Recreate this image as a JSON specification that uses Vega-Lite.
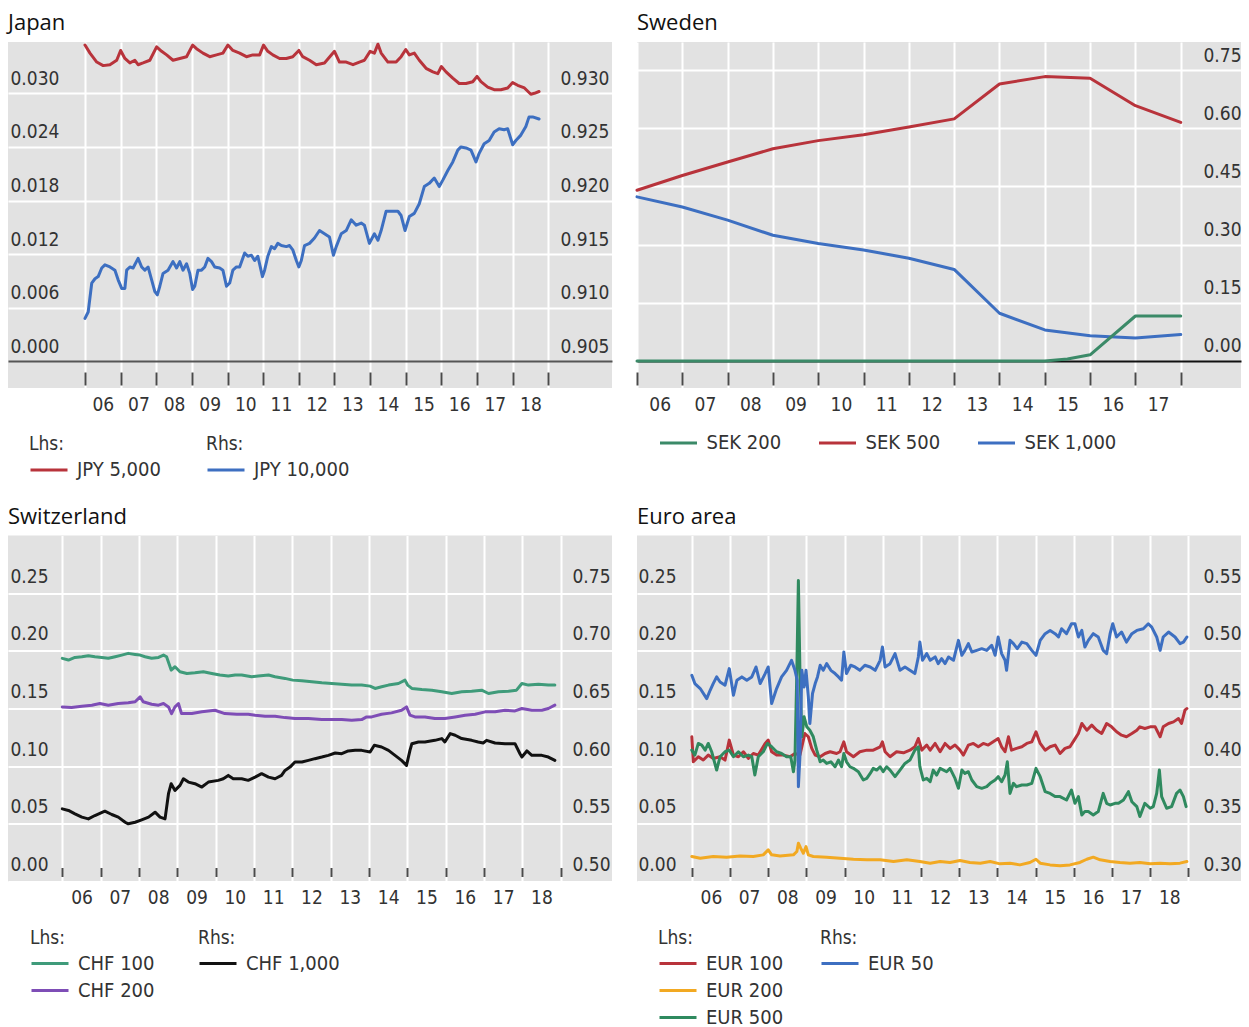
{
"$schema": "https://vega.github.io/schema/vega-lite/v6.json",
"padding": {"left": 8, "top": 12, "right": 0, "bottom": 0},
"background": "white",
"config": {
 "view": {"fill": "#e2e2e2", "stroke": null},
 "axis": {"labelFont": "DejaVu Sans Condensed, DejaVu Sans, sans-serif", "labelFontSize": 19, "labelColor": "#333333", "domain": false, "labelFlush": false, "labelOverlap": false, "labelBound": false, "gridColor": "white", "gridWidth": 2, "gridOpacity": 1},
 "axisY": {"ticks": false, "tickSize": 0, "labelAlign": "left", "labelBaseline": "alphabetic"},
 "axisX": {"ticks": true, "tickColor": "#4a4a4a", "tickWidth": 2, "grid": true},
 "legend": {"orient": "none", "direction": "vertical", "symbolType": "stroke", "symbolSize": 1369, "symbolStrokeWidth": 3, "clipHeight": 20, "labelFont": "DejaVu Sans Condensed, DejaVu Sans, sans-serif", "labelFontSize": 20, "labelColor": "#333333", "labelOffset": 8, "titleFont": "DejaVu Sans Condensed, DejaVu Sans, sans-serif", "titleFontSize": 19, "titleFontWeight": "normal", "titleColor": "#333333", "titlePadding": 6, "rowPadding": 7, "padding": 0},
 "title": {"anchor": "start", "frame": "group", "font": "Open Sans", "fontSize": 22, "fontWeight": "normal", "color": "#111111", "baseline": "alphabetic", "offset": 7},
 "line": {"strokeWidth": 3, "strokeJoin": "round", "strokeCap": "round"}
},
"columns": 2,
"spacing": {"row": 147.5, "column": 25},
"bounds": "flush",
"resolve": {"scale": {"color": "independent", "stroke": "independent"}, "legend": {"color": "independent", "stroke": "independent"}},
"concat": [
 {
  "width": 604, "height": 346,
  "title": {"text": "Japan"},
  "encoding": {"x": {"field": "t", "type": "quantitative", "scale": {"domain": [2003.84, 2020.787], "nice": false, "zero": false},
    "axis": {"title": null, "values": [2006,2007,2008,2009,2010,2011,2012,2013,2014,2015,2016,2017,2018,2019], "labelExpr": "datum.value >= 2019 ? '' : substring(toString(datum.value), 2, 4)", "labelOffset": 17.8, "offset": -16, "tickSize": 13, "labelPadding": 10}}},
  "layer": [
   {"data": {"name": "jpL"}, "mark": "line",
    "encoding": {
     "y": {"field": "v", "type": "quantitative", "scale": {"domain": [-0.002989, 0.035744], "nice": false, "zero": false},
       "axis": {"title": null, "orient": "left", "values": [0, 0.006, 0.012, 0.018, 0.024, 0.03], "format": ".3f", "labelPadding": -2, "labelOffset": -9, "grid": true, "gridColor": {"condition": {"test": "datum.value === 0", "value": "#555555"}, "value": "white"}}},
     "color": {"field": "s", "type": "nominal", "scale": {"domain": ["JPY 5,000"], "range": ["#b8333b"]}, "legend": {"title": "Lhs:", "legendX": 21, "legendY": 393}}}},
   {"data": {"name": "jpR"}, "mark": "line",
    "encoding": {
     "y": {"field": "v", "type": "quantitative", "scale": {"domain": [0.902509, 0.934787], "nice": false, "zero": false},
       "axis": {"title": null, "orient": "right", "values": [0.905, 0.91, 0.915, 0.92, 0.925, 0.93], "format": ".3f", "labelPadding": -52, "labelOffset": -9, "grid": false}},
     "stroke": {"field": "s", "type": "nominal", "scale": {"domain": ["JPY 10,000"], "range": ["#3d6fc1"]}, "legend": {"title": "Rhs:", "legendX": 198, "legendY": 393}}}}
  ],
  "resolve": {"scale": {"y": "independent"}}
 },
 {
  "width": 604, "height": 346,
  "title": {"text": "Sweden"},
  "data": {"name": "se"},
  "mark": "line",
  "encoding": {
   "x": {"field": "t", "type": "quantitative", "scale": {"domain": [2006.0, 2019.33], "nice": false, "zero": false},
    "axis": {"title": null, "values": [2006,2007,2008,2009,2010,2011,2012,2013,2014,2015,2016,2017,2018], "labelExpr": "datum.value >= 2018 ? '' : substring(toString(datum.value), 2, 4)", "labelOffset": 22.65, "offset": -16, "tickSize": 13, "labelPadding": 10}},
   "y": {"field": "v", "type": "quantitative", "scale": {"domain": [-0.0696, 0.8222], "nice": false, "zero": false},
    "axis": {"title": null, "orient": "right", "values": [0, 0.15, 0.3, 0.45, 0.6, 0.75], "format": ".2f", "labelPadding": -38, "labelOffset": -9, "grid": true, "gridColor": {"condition": {"test": "datum.value === 0", "value": "#111111"}, "value": "white"}}},
   "color": {"field": "s", "type": "nominal", "scale": {"domain": ["SEK 200", "SEK 500", "SEK 1,000"], "range": ["#3b8a68", "#b8333b", "#3d6fc1"]},
    "legend": {"title": null, "direction": "horizontal", "columns": 3, "gridAlign": "all", "columnPadding": 19, "legendX": 21.5, "legendY": 391}}
  }
 },
 {
  "width": 604, "height": 346,
  "title": {"text": "Switzerland"},
  "encoding": {"x": {"field": "t", "type": "quantitative", "scale": {"domain": [2004.583, 2020.341], "nice": false, "zero": false},
    "axis": {"title": null, "values": [2006,2007,2008,2009,2010,2011,2012,2013,2014,2015,2016,2017,2018,2019], "labelExpr": "datum.value >= 2019 ? '' : substring(toString(datum.value), 2, 4)", "labelOffset": 19.2, "offset": -14, "tickSize": 9, "labelPadding": 12}}},
  "layer": [
   {"data": {"name": "chL"}, "mark": "line",
    "encoding": {
     "y": {"field": "v", "type": "quantitative", "scale": {"domain": [0, 0.3], "nice": false, "zero": false},
       "axis": {"title": null, "orient": "left", "values": [0, 0.05, 0.1, 0.15, 0.2, 0.25], "format": ".2f", "labelPadding": -2, "labelOffset": -11, "grid": true}},
     "color": {"field": "s", "type": "nominal", "scale": {"domain": ["CHF 100", "CHF 200"], "range": ["#3f9b7a", "#7e4db6"]}, "legend": {"title": "Lhs:", "legendX": 22, "legendY": 393}}}},
   {"data": {"name": "chR"}, "mark": "line",
    "encoding": {
     "y": {"field": "v", "type": "quantitative", "scale": {"domain": [0.5, 0.8], "nice": false, "zero": false},
       "axis": {"title": null, "orient": "right", "values": [0.5, 0.55, 0.6, 0.65, 0.7, 0.75], "format": ".2f", "labelPadding": -40, "labelOffset": -11, "grid": false}},
     "stroke": {"field": "s", "type": "nominal", "scale": {"domain": ["CHF 1,000"], "range": ["#111111"]}, "legend": {"title": "Rhs:", "legendX": 190, "legendY": 393}}}}
  ],
  "resolve": {"scale": {"y": "independent"}}
 },
 {
  "width": 604, "height": 346,
  "title": {"text": "Euro area"},
  "encoding": {"x": {"field": "t", "type": "quantitative", "scale": {"domain": [2004.565, 2020.377], "nice": false, "zero": false},
    "axis": {"title": null, "values": [2006,2007,2008,2009,2010,2011,2012,2013,2014,2015,2016,2017,2018,2019], "labelExpr": "datum.value >= 2019 ? '' : substring(toString(datum.value), 2, 4)", "labelOffset": 19.1, "offset": -14, "tickSize": 9, "labelPadding": 12}}},
  "layer": [
   {"data": {"name": "euL"}, "mark": "line",
    "encoding": {
     "y": {"field": "v", "type": "quantitative", "scale": {"domain": [0, 0.3], "nice": false, "zero": false},
       "axis": {"title": null, "orient": "left", "values": [0, 0.05, 0.1, 0.15, 0.2, 0.25], "format": ".2f", "labelPadding": -1, "labelOffset": -11, "grid": true}},
     "color": {"field": "s", "type": "nominal", "scale": {"domain": ["EUR 100", "EUR 200", "EUR 500"], "range": ["#b8333b", "#f2a922", "#2f8a5f"]}, "legend": {"title": "Lhs:", "legendX": 21, "legendY": 393}}}},
   {"data": {"name": "euR"}, "mark": "line",
    "encoding": {
     "y": {"field": "v", "type": "quantitative", "scale": {"domain": [0.3, 0.6], "nice": false, "zero": false},
       "axis": {"title": null, "orient": "right", "values": [0.3, 0.35, 0.4, 0.45, 0.5, 0.55], "format": ".2f", "labelPadding": -38, "labelOffset": -11, "grid": false}},
     "stroke": {"field": "s", "type": "nominal", "scale": {"domain": ["EUR 50"], "range": ["#3d6fc1"]}, "legend": {"title": "Rhs:", "legendX": 183, "legendY": 393}}}}
  ],
  "resolve": {"scale": {"y": "independent"}}
 }
],
"datasets": {
"jpL": [
{"s":"JPY 5,000","t":2006.00,"v":0.0354},{"s":"JPY 5,000","t":2006.14,"v":0.0345},{"s":"JPY 5,000","t":2006.33,"v":0.0335},{"s":"JPY 5,000","t":2006.51,"v":0.0331},{"s":"JPY 5,000","t":2006.70,"v":0.0332},{"s":"JPY 5,000","t":2006.89,"v":0.0337},
{"s":"JPY 5,000","t":2007.00,"v":0.0348},{"s":"JPY 5,000","t":2007.12,"v":0.0339},{"s":"JPY 5,000","t":2007.26,"v":0.0334},{"s":"JPY 5,000","t":2007.40,"v":0.0337},{"s":"JPY 5,000","t":2007.49,"v":0.0332},{"s":"JPY 5,000","t":2007.63,"v":0.0334},{"s":"JPY 5,000","t":2007.82,"v":0.0337},
{"s":"JPY 5,000","t":2008.01,"v":0.0352},{"s":"JPY 5,000","t":2008.15,"v":0.0347},{"s":"JPY 5,000","t":2008.29,"v":0.0343},{"s":"JPY 5,000","t":2008.47,"v":0.0337},{"s":"JPY 5,000","t":2008.66,"v":0.0339},{"s":"JPY 5,000","t":2008.85,"v":0.0341},
{"s":"JPY 5,000","t":2009.02,"v":0.0354},{"s":"JPY 5,000","t":2009.13,"v":0.0350},{"s":"JPY 5,000","t":2009.31,"v":0.0345},{"s":"JPY 5,000","t":2009.50,"v":0.0341},{"s":"JPY 5,000","t":2009.69,"v":0.0343},{"s":"JPY 5,000","t":2009.87,"v":0.0345},
{"s":"JPY 5,000","t":2010.01,"v":0.0354},{"s":"JPY 5,000","t":2010.15,"v":0.0348},{"s":"JPY 5,000","t":2010.34,"v":0.0345},{"s":"JPY 5,000","t":2010.53,"v":0.0341},{"s":"JPY 5,000","t":2010.71,"v":0.0343},{"s":"JPY 5,000","t":2010.90,"v":0.0343},
{"s":"JPY 5,000","t":2011.01,"v":0.0354},{"s":"JPY 5,000","t":2011.13,"v":0.0347},{"s":"JPY 5,000","t":2011.27,"v":0.0343},{"s":"JPY 5,000","t":2011.46,"v":0.0339},{"s":"JPY 5,000","t":2011.65,"v":0.0339},{"s":"JPY 5,000","t":2011.83,"v":0.0341},
{"s":"JPY 5,000","t":2012.00,"v":0.0348},{"s":"JPY 5,000","t":2012.11,"v":0.0341},{"s":"JPY 5,000","t":2012.30,"v":0.0337},{"s":"JPY 5,000","t":2012.49,"v":0.0332},{"s":"JPY 5,000","t":2012.72,"v":0.0334},
{"s":"JPY 5,000","t":2013.00,"v":0.0347},{"s":"JPY 5,000","t":2013.14,"v":0.0335},{"s":"JPY 5,000","t":2013.33,"v":0.0335},{"s":"JPY 5,000","t":2013.52,"v":0.0332},{"s":"JPY 5,000","t":2013.70,"v":0.0335},{"s":"JPY 5,000","t":2013.84,"v":0.0337},
{"s":"JPY 5,000","t":2014.00,"v":0.0347},{"s":"JPY 5,000","t":2014.12,"v":0.0345},{"s":"JPY 5,000","t":2014.22,"v":0.0355},{"s":"JPY 5,000","t":2014.31,"v":0.0345},{"s":"JPY 5,000","t":2014.50,"v":0.0335},{"s":"JPY 5,000","t":2014.73,"v":0.0335},{"s":"JPY 5,000","t":2014.87,"v":0.0341},
{"s":"JPY 5,000","t":2015.00,"v":0.0349},{"s":"JPY 5,000","t":2015.10,"v":0.0343},{"s":"JPY 5,000","t":2015.24,"v":0.0345},{"s":"JPY 5,000","t":2015.38,"v":0.0337},{"s":"JPY 5,000","t":2015.57,"v":0.0328},{"s":"JPY 5,000","t":2015.76,"v":0.0324},{"s":"JPY 5,000","t":2015.90,"v":0.0322},
{"s":"JPY 5,000","t":2016.00,"v":0.0330},{"s":"JPY 5,000","t":2016.13,"v":0.0324},{"s":"JPY 5,000","t":2016.32,"v":0.0317},{"s":"JPY 5,000","t":2016.50,"v":0.0311},{"s":"JPY 5,000","t":2016.69,"v":0.0311},{"s":"JPY 5,000","t":2016.88,"v":0.0313},
{"s":"JPY 5,000","t":2017.00,"v":0.0319},{"s":"JPY 5,000","t":2017.11,"v":0.0313},{"s":"JPY 5,000","t":2017.30,"v":0.0307},{"s":"JPY 5,000","t":2017.48,"v":0.0304},{"s":"JPY 5,000","t":2017.67,"v":0.0304},{"s":"JPY 5,000","t":2017.86,"v":0.0306},
{"s":"JPY 5,000","t":2018.00,"v":0.0312},{"s":"JPY 5,000","t":2018.14,"v":0.0309},{"s":"JPY 5,000","t":2018.33,"v":0.0306},{"s":"JPY 5,000","t":2018.51,"v":0.0299},{"s":"JPY 5,000","t":2018.61,"v":0.0300},{"s":"JPY 5,000","t":2018.74,"v":0.0302}
],
"jpR": [
{"s":"JPY 10,000","t":2006.00,"v":0.9090},{"s":"JPY 10,000","t":2006.09,"v":0.9096},{"s":"JPY 10,000","t":2006.19,"v":0.9123},{"s":"JPY 10,000","t":2006.28,"v":0.9127},{"s":"JPY 10,000","t":2006.37,"v":0.9129},{"s":"JPY 10,000","t":2006.47,"v":0.9137},{"s":"JPY 10,000","t":2006.56,"v":0.9140},{"s":"JPY 10,000","t":2006.70,"v":0.9138},{"s":"JPY 10,000","t":2006.84,"v":0.9135},{"s":"JPY 10,000","t":2006.93,"v":0.9126},
{"s":"JPY 10,000","t":2007.03,"v":0.9118},{"s":"JPY 10,000","t":2007.12,"v":0.9118},{"s":"JPY 10,000","t":2007.17,"v":0.9135},{"s":"JPY 10,000","t":2007.26,"v":0.9138},{"s":"JPY 10,000","t":2007.35,"v":0.9137},{"s":"JPY 10,000","t":2007.49,"v":0.9146},{"s":"JPY 10,000","t":2007.59,"v":0.9138},{"s":"JPY 10,000","t":2007.68,"v":0.9135},{"s":"JPY 10,000","t":2007.77,"v":0.9138},{"s":"JPY 10,000","t":2007.87,"v":0.9126},{"s":"JPY 10,000","t":2007.96,"v":0.9115},
{"s":"JPY 10,000","t":2008.03,"v":0.9112},{"s":"JPY 10,000","t":2008.10,"v":0.9120},{"s":"JPY 10,000","t":2008.19,"v":0.9132},{"s":"JPY 10,000","t":2008.33,"v":0.9135},{"s":"JPY 10,000","t":2008.47,"v":0.9143},{"s":"JPY 10,000","t":2008.57,"v":0.9137},{"s":"JPY 10,000","t":2008.66,"v":0.9143},{"s":"JPY 10,000","t":2008.75,"v":0.9135},{"s":"JPY 10,000","t":2008.85,"v":0.9141},{"s":"JPY 10,000","t":2008.94,"v":0.9132},
{"s":"JPY 10,000","t":2009.02,"v":0.9117},{"s":"JPY 10,000","t":2009.08,"v":0.9120},{"s":"JPY 10,000","t":2009.17,"v":0.9135},{"s":"JPY 10,000","t":2009.27,"v":0.9135},{"s":"JPY 10,000","t":2009.36,"v":0.9138},{"s":"JPY 10,000","t":2009.45,"v":0.9146},{"s":"JPY 10,000","t":2009.55,"v":0.9143},{"s":"JPY 10,000","t":2009.64,"v":0.9138},{"s":"JPY 10,000","t":2009.78,"v":0.9137},{"s":"JPY 10,000","t":2009.87,"v":0.9135},{"s":"JPY 10,000","t":2009.97,"v":0.9120},
{"s":"JPY 10,000","t":2010.06,"v":0.9123},{"s":"JPY 10,000","t":2010.15,"v":0.9135},{"s":"JPY 10,000","t":2010.25,"v":0.9138},{"s":"JPY 10,000","t":2010.34,"v":0.9138},{"s":"JPY 10,000","t":2010.48,"v":0.9151},{"s":"JPY 10,000","t":2010.57,"v":0.9148},{"s":"JPY 10,000","t":2010.67,"v":0.9149},{"s":"JPY 10,000","t":2010.76,"v":0.9144},{"s":"JPY 10,000","t":2010.85,"v":0.9148},{"s":"JPY 10,000","t":2010.98,"v":0.9129},
{"s":"JPY 10,000","t":2011.04,"v":0.9135},{"s":"JPY 10,000","t":2011.13,"v":0.9148},{"s":"JPY 10,000","t":2011.23,"v":0.9157},{"s":"JPY 10,000","t":2011.32,"v":0.9155},{"s":"JPY 10,000","t":2011.41,"v":0.9160},{"s":"JPY 10,000","t":2011.51,"v":0.9158},{"s":"JPY 10,000","t":2011.65,"v":0.9157},{"s":"JPY 10,000","t":2011.74,"v":0.9158},{"s":"JPY 10,000","t":2011.83,"v":0.9154},{"s":"JPY 10,000","t":2011.93,"v":0.9144},
{"s":"JPY 10,000","t":2012.00,"v":0.9138},{"s":"JPY 10,000","t":2012.07,"v":0.9144},{"s":"JPY 10,000","t":2012.16,"v":0.9158},{"s":"JPY 10,000","t":2012.30,"v":0.9160},{"s":"JPY 10,000","t":2012.44,"v":0.9165},{"s":"JPY 10,000","t":2012.58,"v":0.9172},{"s":"JPY 10,000","t":2012.72,"v":0.9169},{"s":"JPY 10,000","t":2012.86,"v":0.9166},{"s":"JPY 10,000","t":2012.97,"v":0.9149},
{"s":"JPY 10,000","t":2013.05,"v":0.9157},{"s":"JPY 10,000","t":2013.19,"v":0.9169},{"s":"JPY 10,000","t":2013.33,"v":0.9172},{"s":"JPY 10,000","t":2013.47,"v":0.9182},{"s":"JPY 10,000","t":2013.61,"v":0.9177},{"s":"JPY 10,000","t":2013.75,"v":0.9179},{"s":"JPY 10,000","t":2013.84,"v":0.9177},{"s":"JPY 10,000","t":2013.98,"v":0.9160},
{"s":"JPY 10,000","t":2014.12,"v":0.9169},{"s":"JPY 10,000","t":2014.22,"v":0.9163},{"s":"JPY 10,000","t":2014.31,"v":0.9172},{"s":"JPY 10,000","t":2014.45,"v":0.9190},{"s":"JPY 10,000","t":2014.59,"v":0.9190},{"s":"JPY 10,000","t":2014.78,"v":0.9190},{"s":"JPY 10,000","t":2014.87,"v":0.9186},{"s":"JPY 10,000","t":2014.98,"v":0.9172},
{"s":"JPY 10,000","t":2015.10,"v":0.9185},{"s":"JPY 10,000","t":2015.24,"v":0.9188},{"s":"JPY 10,000","t":2015.38,"v":0.9197},{"s":"JPY 10,000","t":2015.52,"v":0.9213},{"s":"JPY 10,000","t":2015.66,"v":0.9216},{"s":"JPY 10,000","t":2015.80,"v":0.9221},{"s":"JPY 10,000","t":2015.94,"v":0.9213},
{"s":"JPY 10,000","t":2016.04,"v":0.9219},{"s":"JPY 10,000","t":2016.18,"v":0.9228},{"s":"JPY 10,000","t":2016.32,"v":0.9236},{"s":"JPY 10,000","t":2016.46,"v":0.9247},{"s":"JPY 10,000","t":2016.55,"v":0.9250},{"s":"JPY 10,000","t":2016.69,"v":0.9249},{"s":"JPY 10,000","t":2016.83,"v":0.9247},{"s":"JPY 10,000","t":2016.97,"v":0.9236},
{"s":"JPY 10,000","t":2017.06,"v":0.9244},{"s":"JPY 10,000","t":2017.20,"v":0.9253},{"s":"JPY 10,000","t":2017.34,"v":0.9256},{"s":"JPY 10,000","t":2017.48,"v":0.9264},{"s":"JPY 10,000","t":2017.62,"v":0.9267},{"s":"JPY 10,000","t":2017.76,"v":0.9266},{"s":"JPY 10,000","t":2017.86,"v":0.9267},
{"s":"JPY 10,000","t":2018.00,"v":0.9252},{"s":"JPY 10,000","t":2018.09,"v":0.9256},{"s":"JPY 10,000","t":2018.23,"v":0.9261},{"s":"JPY 10,000","t":2018.37,"v":0.9269},{"s":"JPY 10,000","t":2018.46,"v":0.9278},{"s":"JPY 10,000","t":2018.56,"v":0.9278},{"s":"JPY 10,000","t":2018.74,"v":0.9276}
],
"se": [
{"s":"SEK 500","t":2006,"v":0.440},{"s":"SEK 500","t":2007,"v":0.478},{"s":"SEK 500","t":2008,"v":0.513},{"s":"SEK 500","t":2009,"v":0.547},{"s":"SEK 500","t":2010,"v":0.568},{"s":"SEK 500","t":2011,"v":0.583},{"s":"SEK 500","t":2012,"v":0.603},{"s":"SEK 500","t":2013,"v":0.624},{"s":"SEK 500","t":2014,"v":0.714},{"s":"SEK 500","t":2015,"v":0.733},{"s":"SEK 500","t":2016,"v":0.729},{"s":"SEK 500","t":2017,"v":0.658},{"s":"SEK 500","t":2018,"v":0.615},
{"s":"SEK 1,000","t":2006,"v":0.423},{"s":"SEK 1,000","t":2007,"v":0.397},{"s":"SEK 1,000","t":2008,"v":0.363},{"s":"SEK 1,000","t":2009,"v":0.324},{"s":"SEK 1,000","t":2010,"v":0.303},{"s":"SEK 1,000","t":2011,"v":0.286},{"s":"SEK 1,000","t":2012,"v":0.265},{"s":"SEK 1,000","t":2013,"v":0.236},{"s":"SEK 1,000","t":2014,"v":0.123},{"s":"SEK 1,000","t":2015,"v":0.080},{"s":"SEK 1,000","t":2016,"v":0.065},{"s":"SEK 1,000","t":2017,"v":0.059},{"s":"SEK 1,000","t":2018,"v":0.068},
{"s":"SEK 200","t":2006,"v":0},{"s":"SEK 200","t":2007,"v":0},{"s":"SEK 200","t":2008,"v":0},{"s":"SEK 200","t":2009,"v":0},{"s":"SEK 200","t":2010,"v":0},{"s":"SEK 200","t":2011,"v":0},{"s":"SEK 200","t":2012,"v":0},{"s":"SEK 200","t":2013,"v":0},{"s":"SEK 200","t":2014,"v":0},{"s":"SEK 200","t":2015,"v":0},{"s":"SEK 200","t":2015.5,"v":0.005},{"s":"SEK 200","t":2016,"v":0.016},{"s":"SEK 200","t":2017,"v":0.116},{"s":"SEK 200","t":2018,"v":0.116}
],
"chL": [
{"s":"CHF 100","t":2006.00,"v":0.1935},{"s":"CHF 100","t":2006.16,"v":0.1920},{"s":"CHF 100","t":2006.33,"v":0.1943},{"s":"CHF 100","t":2006.51,"v":0.1949},{"s":"CHF 100","t":2006.68,"v":0.1958},{"s":"CHF 100","t":2006.85,"v":0.1949},{"s":"CHF 100","t":2007.03,"v":0.1943},{"s":"CHF 100","t":2007.20,"v":0.1935},{"s":"CHF 100","t":2007.38,"v":0.1949},{"s":"CHF 100","t":2007.55,"v":0.1963},{"s":"CHF 100","t":2007.72,"v":0.1978},{"s":"CHF 100","t":2007.90,"v":0.1969},
{"s":"CHF 100","t":2008.03,"v":0.1963},{"s":"CHF 100","t":2008.16,"v":0.1949},{"s":"CHF 100","t":2008.33,"v":0.1935},{"s":"CHF 100","t":2008.51,"v":0.1943},{"s":"CHF 100","t":2008.64,"v":0.1963},{"s":"CHF 100","t":2008.72,"v":0.1949},{"s":"CHF 100","t":2008.84,"v":0.1833},{"s":"CHF 100","t":2008.94,"v":0.1862},
{"s":"CHF 100","t":2009.07,"v":0.1819},{"s":"CHF 100","t":2009.25,"v":0.1804},{"s":"CHF 100","t":2009.46,"v":0.1810},{"s":"CHF 100","t":2009.68,"v":0.1819},{"s":"CHF 100","t":2009.90,"v":0.1804},{"s":"CHF 100","t":2010.11,"v":0.1790},{"s":"CHF 100","t":2010.33,"v":0.1781},{"s":"CHF 100","t":2010.51,"v":0.1790},{"s":"CHF 100","t":2010.68,"v":0.1790},{"s":"CHF 100","t":2010.94,"v":0.1775},
{"s":"CHF 100","t":2011.11,"v":0.1781},{"s":"CHF 100","t":2011.38,"v":0.1790},{"s":"CHF 100","t":2011.55,"v":0.1775},{"s":"CHF 100","t":2011.81,"v":0.1761},{"s":"CHF 100","t":2012.01,"v":0.1746},{"s":"CHF 100","t":2012.25,"v":0.1740},{"s":"CHF 100","t":2012.51,"v":0.1732},{"s":"CHF 100","t":2012.77,"v":0.1723},{"s":"CHF 100","t":2013.03,"v":0.1717},{"s":"CHF 100","t":2013.29,"v":0.1711},{"s":"CHF 100","t":2013.55,"v":0.1703},{"s":"CHF 100","t":2013.81,"v":0.1703},
{"s":"CHF 100","t":2014.03,"v":0.1694},{"s":"CHF 100","t":2014.16,"v":0.1674},{"s":"CHF 100","t":2014.33,"v":0.1688},{"s":"CHF 100","t":2014.51,"v":0.1703},{"s":"CHF 100","t":2014.77,"v":0.1717},{"s":"CHF 100","t":2014.94,"v":0.1746},{"s":"CHF 100","t":2015.01,"v":0.1703},{"s":"CHF 100","t":2015.12,"v":0.1674},{"s":"CHF 100","t":2015.38,"v":0.1665},{"s":"CHF 100","t":2015.64,"v":0.1659},{"s":"CHF 100","t":2015.90,"v":0.1645},
{"s":"CHF 100","t":2016.16,"v":0.1630},{"s":"CHF 100","t":2016.42,"v":0.1645},{"s":"CHF 100","t":2016.68,"v":0.1650},{"s":"CHF 100","t":2016.94,"v":0.1659},{"s":"CHF 100","t":2017.12,"v":0.1630},{"s":"CHF 100","t":2017.38,"v":0.1645},{"s":"CHF 100","t":2017.64,"v":0.1650},{"s":"CHF 100","t":2017.85,"v":0.1659},{"s":"CHF 100","t":2017.99,"v":0.1717},{"s":"CHF 100","t":2018.16,"v":0.1703},{"s":"CHF 100","t":2018.42,"v":0.1711},{"s":"CHF 100","t":2018.68,"v":0.1703},{"s":"CHF 100","t":2018.85,"v":0.1703},
{"s":"CHF 200","t":2006.00,"v":0.1514},{"s":"CHF 200","t":2006.24,"v":0.1508},{"s":"CHF 200","t":2006.51,"v":0.1520},{"s":"CHF 200","t":2006.77,"v":0.1529},{"s":"CHF 200","t":2006.98,"v":0.1543},{"s":"CHF 200","t":2007.20,"v":0.1529},{"s":"CHF 200","t":2007.46,"v":0.1543},{"s":"CHF 200","t":2007.72,"v":0.1549},{"s":"CHF 200","t":2007.90,"v":0.1558},
{"s":"CHF 200","t":2008.03,"v":0.1601},{"s":"CHF 200","t":2008.11,"v":0.1558},{"s":"CHF 200","t":2008.33,"v":0.1537},{"s":"CHF 200","t":2008.51,"v":0.1529},{"s":"CHF 200","t":2008.64,"v":0.1543},{"s":"CHF 200","t":2008.77,"v":0.1514},{"s":"CHF 200","t":2008.85,"v":0.1456},{"s":"CHF 200","t":2008.94,"v":0.1514},
{"s":"CHF 200","t":2009.03,"v":0.1543},{"s":"CHF 200","t":2009.11,"v":0.1456},{"s":"CHF 200","t":2009.38,"v":0.1456},{"s":"CHF 200","t":2009.64,"v":0.1471},{"s":"CHF 200","t":2009.98,"v":0.1485},{"s":"CHF 200","t":2010.24,"v":0.1456},{"s":"CHF 200","t":2010.55,"v":0.1450},{"s":"CHF 200","t":2010.85,"v":0.1450},
{"s":"CHF 200","t":2011.03,"v":0.1442},{"s":"CHF 200","t":2011.29,"v":0.1433},{"s":"CHF 200","t":2011.55,"v":0.1433},{"s":"CHF 200","t":2011.81,"v":0.1421},{"s":"CHF 200","t":2012.07,"v":0.1413},{"s":"CHF 200","t":2012.42,"v":0.1413},{"s":"CHF 200","t":2012.77,"v":0.1404},{"s":"CHF 200","t":2013.03,"v":0.1404},{"s":"CHF 200","t":2013.29,"v":0.1404},{"s":"CHF 200","t":2013.55,"v":0.1398},{"s":"CHF 200","t":2013.81,"v":0.1404},{"s":"CHF 200","t":2013.94,"v":0.1427},
{"s":"CHF 200","t":2014.07,"v":0.1427},{"s":"CHF 200","t":2014.33,"v":0.1450},{"s":"CHF 200","t":2014.59,"v":0.1462},{"s":"CHF 200","t":2014.85,"v":0.1485},{"s":"CHF 200","t":2014.98,"v":0.1514},{"s":"CHF 200","t":2015.07,"v":0.1442},{"s":"CHF 200","t":2015.20,"v":0.1427},{"s":"CHF 200","t":2015.46,"v":0.1427},{"s":"CHF 200","t":2015.72,"v":0.1413},{"s":"CHF 200","t":2015.98,"v":0.1413},
{"s":"CHF 200","t":2016.25,"v":0.1427},{"s":"CHF 200","t":2016.51,"v":0.1442},{"s":"CHF 200","t":2016.77,"v":0.1450},{"s":"CHF 200","t":2017.03,"v":0.1471},{"s":"CHF 200","t":2017.29,"v":0.1471},{"s":"CHF 200","t":2017.55,"v":0.1485},{"s":"CHF 200","t":2017.81,"v":0.1479},{"s":"CHF 200","t":2017.99,"v":0.1500},{"s":"CHF 200","t":2018.25,"v":0.1485},{"s":"CHF 200","t":2018.51,"v":0.1485},{"s":"CHF 200","t":2018.68,"v":0.1500},{"s":"CHF 200","t":2018.85,"v":0.1529}
],
"chR": [
{"s":"CHF 1,000","t":2006.00,"v":0.5630},{"s":"CHF 1,000","t":2006.16,"v":0.5616},{"s":"CHF 1,000","t":2006.33,"v":0.5587},{"s":"CHF 1,000","t":2006.51,"v":0.5558},{"s":"CHF 1,000","t":2006.68,"v":0.5543},{"s":"CHF 1,000","t":2006.85,"v":0.5572},{"s":"CHF 1,000","t":2007.11,"v":0.5610},{"s":"CHF 1,000","t":2007.29,"v":0.5581},{"s":"CHF 1,000","t":2007.46,"v":0.5558},{"s":"CHF 1,000","t":2007.64,"v":0.5514},{"s":"CHF 1,000","t":2007.72,"v":0.5500},{"s":"CHF 1,000","t":2007.90,"v":0.5514},
{"s":"CHF 1,000","t":2008.07,"v":0.5535},{"s":"CHF 1,000","t":2008.25,"v":0.5558},{"s":"CHF 1,000","t":2008.42,"v":0.5601},{"s":"CHF 1,000","t":2008.55,"v":0.5558},{"s":"CHF 1,000","t":2008.68,"v":0.5543},{"s":"CHF 1,000","t":2008.77,"v":0.5761},{"s":"CHF 1,000","t":2008.84,"v":0.5848},{"s":"CHF 1,000","t":2008.94,"v":0.5790},
{"s":"CHF 1,000","t":2009.07,"v":0.5833},{"s":"CHF 1,000","t":2009.16,"v":0.5891},{"s":"CHF 1,000","t":2009.29,"v":0.5862},{"s":"CHF 1,000","t":2009.46,"v":0.5848},{"s":"CHF 1,000","t":2009.64,"v":0.5819},{"s":"CHF 1,000","t":2009.81,"v":0.5862},{"s":"CHF 1,000","t":2010.07,"v":0.5877},{"s":"CHF 1,000","t":2010.20,"v":0.5891},{"s":"CHF 1,000","t":2010.33,"v":0.5920},{"s":"CHF 1,000","t":2010.46,"v":0.5891},{"s":"CHF 1,000","t":2010.68,"v":0.5891},{"s":"CHF 1,000","t":2010.85,"v":0.5877},
{"s":"CHF 1,000","t":2011.03,"v":0.5905},{"s":"CHF 1,000","t":2011.20,"v":0.5935},{"s":"CHF 1,000","t":2011.38,"v":0.5905},{"s":"CHF 1,000","t":2011.55,"v":0.5891},{"s":"CHF 1,000","t":2011.72,"v":0.5920},{"s":"CHF 1,000","t":2011.81,"v":0.5963},{"s":"CHF 1,000","t":2011.94,"v":0.5992},{"s":"CHF 1,000","t":2012.07,"v":0.6036},{"s":"CHF 1,000","t":2012.25,"v":0.6036},{"s":"CHF 1,000","t":2012.42,"v":0.6050},{"s":"CHF 1,000","t":2012.59,"v":0.6065},{"s":"CHF 1,000","t":2012.77,"v":0.6079},{"s":"CHF 1,000","t":2012.94,"v":0.6094},
{"s":"CHF 1,000","t":2013.12,"v":0.6114},{"s":"CHF 1,000","t":2013.29,"v":0.6108},{"s":"CHF 1,000","t":2013.46,"v":0.6132},{"s":"CHF 1,000","t":2013.64,"v":0.6137},{"s":"CHF 1,000","t":2013.81,"v":0.6137},{"s":"CHF 1,000","t":2014.03,"v":0.6123},{"s":"CHF 1,000","t":2014.14,"v":0.6181},{"s":"CHF 1,000","t":2014.33,"v":0.6166},{"s":"CHF 1,000","t":2014.51,"v":0.6137},{"s":"CHF 1,000","t":2014.68,"v":0.6094},{"s":"CHF 1,000","t":2014.85,"v":0.6050},{"s":"CHF 1,000","t":2014.98,"v":0.6007},
{"s":"CHF 1,000","t":2015.07,"v":0.6137},{"s":"CHF 1,000","t":2015.12,"v":0.6195},{"s":"CHF 1,000","t":2015.29,"v":0.6210},{"s":"CHF 1,000","t":2015.46,"v":0.6210},{"s":"CHF 1,000","t":2015.72,"v":0.6224},{"s":"CHF 1,000","t":2015.90,"v":0.6239},{"s":"CHF 1,000","t":2015.98,"v":0.6210},{"s":"CHF 1,000","t":2016.12,"v":0.6282},{"s":"CHF 1,000","t":2016.25,"v":0.6268},{"s":"CHF 1,000","t":2016.42,"v":0.6239},{"s":"CHF 1,000","t":2016.68,"v":0.6224},{"s":"CHF 1,000","t":2016.85,"v":0.6210},{"s":"CHF 1,000","t":2016.98,"v":0.6201},
{"s":"CHF 1,000","t":2017.07,"v":0.6224},{"s":"CHF 1,000","t":2017.29,"v":0.6201},{"s":"CHF 1,000","t":2017.55,"v":0.6195},{"s":"CHF 1,000","t":2017.81,"v":0.6195},{"s":"CHF 1,000","t":2017.94,"v":0.6108},{"s":"CHF 1,000","t":2017.99,"v":0.6079},{"s":"CHF 1,000","t":2018.12,"v":0.6132},{"s":"CHF 1,000","t":2018.25,"v":0.6094},{"s":"CHF 1,000","t":2018.51,"v":0.6094},{"s":"CHF 1,000","t":2018.68,"v":0.6079},{"s":"CHF 1,000","t":2018.85,"v":0.6050}
],
"euL": [
{"s":"EUR 100","t":2006.00,"v":0.1255},{"s":"EUR 100","t":2006.04,"v":0.1038},{"s":"EUR 100","t":2006.17,"v":0.1082},{"s":"EUR 100","t":2006.30,"v":0.1053},{"s":"EUR 100","t":2006.43,"v":0.1096},{"s":"EUR 100","t":2006.56,"v":0.1067},{"s":"EUR 100","t":2006.74,"v":0.1082},{"s":"EUR 100","t":2006.87,"v":0.1053},{"s":"EUR 100","t":2006.98,"v":0.1226},
{"s":"EUR 100","t":2007.09,"v":0.1096},{"s":"EUR 100","t":2007.22,"v":0.1082},{"s":"EUR 100","t":2007.35,"v":0.1125},{"s":"EUR 100","t":2007.48,"v":0.1067},{"s":"EUR 100","t":2007.61,"v":0.1110},{"s":"EUR 100","t":2007.74,"v":0.1096},{"s":"EUR 100","t":2007.92,"v":0.1197},{"s":"EUR 100","t":2008.00,"v":0.1226},{"s":"EUR 100","t":2008.09,"v":0.1125},{"s":"EUR 100","t":2008.22,"v":0.1096},{"s":"EUR 100","t":2008.40,"v":0.1096},{"s":"EUR 100","t":2008.57,"v":0.1082},{"s":"EUR 100","t":2008.70,"v":0.1110},{"s":"EUR 100","t":2008.83,"v":0.1096},{"s":"EUR 100","t":2008.96,"v":0.1283},
{"s":"EUR 100","t":2009.05,"v":0.1255},{"s":"EUR 100","t":2009.14,"v":0.1154},{"s":"EUR 100","t":2009.23,"v":0.1096},{"s":"EUR 100","t":2009.36,"v":0.1082},{"s":"EUR 100","t":2009.49,"v":0.1110},{"s":"EUR 100","t":2009.62,"v":0.1125},{"s":"EUR 100","t":2009.79,"v":0.1110},{"s":"EUR 100","t":2009.88,"v":0.1125},{"s":"EUR 100","t":2009.98,"v":0.1211},{"s":"EUR 100","t":2010.05,"v":0.1125},{"s":"EUR 100","t":2010.23,"v":0.1082},{"s":"EUR 100","t":2010.40,"v":0.1125},{"s":"EUR 100","t":2010.58,"v":0.1139},{"s":"EUR 100","t":2010.75,"v":0.1139},{"s":"EUR 100","t":2010.93,"v":0.1168},{"s":"EUR 100","t":2010.99,"v":0.1211},
{"s":"EUR 100","t":2011.06,"v":0.1125},{"s":"EUR 100","t":2011.19,"v":0.1082},{"s":"EUR 100","t":2011.36,"v":0.1125},{"s":"EUR 100","t":2011.54,"v":0.1116},{"s":"EUR 100","t":2011.71,"v":0.1139},{"s":"EUR 100","t":2011.84,"v":0.1168},{"s":"EUR 100","t":2011.93,"v":0.1240},{"s":"EUR 100","t":2012.02,"v":0.1139},{"s":"EUR 100","t":2012.15,"v":0.1183},{"s":"EUR 100","t":2012.24,"v":0.1139},{"s":"EUR 100","t":2012.37,"v":0.1197},{"s":"EUR 100","t":2012.50,"v":0.1125},{"s":"EUR 100","t":2012.63,"v":0.1197},{"s":"EUR 100","t":2012.76,"v":0.1154},{"s":"EUR 100","t":2012.89,"v":0.1183},
{"s":"EUR 100","t":2013.02,"v":0.1139},{"s":"EUR 100","t":2013.11,"v":0.1096},{"s":"EUR 100","t":2013.24,"v":0.1183},{"s":"EUR 100","t":2013.37,"v":0.1197},{"s":"EUR 100","t":2013.50,"v":0.1168},{"s":"EUR 100","t":2013.63,"v":0.1197},{"s":"EUR 100","t":2013.76,"v":0.1183},{"s":"EUR 100","t":2013.89,"v":0.1211},{"s":"EUR 100","t":2014.02,"v":0.1240},{"s":"EUR 100","t":2014.11,"v":0.1168},{"s":"EUR 100","t":2014.20,"v":0.1125},{"s":"EUR 100","t":2014.29,"v":0.1255},{"s":"EUR 100","t":2014.37,"v":0.1139},{"s":"EUR 100","t":2014.50,"v":0.1154},{"s":"EUR 100","t":2014.64,"v":0.1168},{"s":"EUR 100","t":2014.77,"v":0.1197},{"s":"EUR 100","t":2014.90,"v":0.1211},
{"s":"EUR 100","t":2015.01,"v":0.1298},{"s":"EUR 100","t":2015.12,"v":0.1197},{"s":"EUR 100","t":2015.25,"v":0.1139},{"s":"EUR 100","t":2015.38,"v":0.1168},{"s":"EUR 100","t":2015.51,"v":0.1183},{"s":"EUR 100","t":2015.64,"v":0.1110},{"s":"EUR 100","t":2015.77,"v":0.1154},{"s":"EUR 100","t":2015.90,"v":0.1168},{"s":"EUR 100","t":2016.01,"v":0.1226},{"s":"EUR 100","t":2016.12,"v":0.1283},{"s":"EUR 100","t":2016.21,"v":0.1370},{"s":"EUR 100","t":2016.34,"v":0.1312},{"s":"EUR 100","t":2016.47,"v":0.1356},{"s":"EUR 100","t":2016.60,"v":0.1312},{"s":"EUR 100","t":2016.73,"v":0.1283},{"s":"EUR 100","t":2016.86,"v":0.1370},{"s":"EUR 100","t":2016.99,"v":0.1341},
{"s":"EUR 100","t":2017.12,"v":0.1298},{"s":"EUR 100","t":2017.25,"v":0.1269},{"s":"EUR 100","t":2017.38,"v":0.1255},{"s":"EUR 100","t":2017.52,"v":0.1283},{"s":"EUR 100","t":2017.65,"v":0.1312},{"s":"EUR 100","t":2017.73,"v":0.1341},{"s":"EUR 100","t":2017.86,"v":0.1327},{"s":"EUR 100","t":2018.00,"v":0.1341},{"s":"EUR 100","t":2018.13,"v":0.1341},{"s":"EUR 100","t":2018.26,"v":0.1255},{"s":"EUR 100","t":2018.34,"v":0.1341},{"s":"EUR 100","t":2018.48,"v":0.1370},{"s":"EUR 100","t":2018.61,"v":0.1384},{"s":"EUR 100","t":2018.74,"v":0.1413},{"s":"EUR 100","t":2018.82,"v":0.1370},{"s":"EUR 100","t":2018.91,"v":0.1485},{"s":"EUR 100","t":2018.96,"v":0.1500},
{"s":"EUR 200","t":2006.00,"v":0.0217},{"s":"EUR 200","t":2006.22,"v":0.0202},{"s":"EUR 200","t":2006.56,"v":0.0217},{"s":"EUR 200","t":2006.91,"v":0.0211},{"s":"EUR 200","t":2007.26,"v":0.0222},{"s":"EUR 200","t":2007.61,"v":0.0217},{"s":"EUR 200","t":2007.87,"v":0.0231},{"s":"EUR 200","t":2008.00,"v":0.0274},{"s":"EUR 200","t":2008.09,"v":0.0231},{"s":"EUR 200","t":2008.31,"v":0.0222},{"s":"EUR 200","t":2008.66,"v":0.0231},{"s":"EUR 200","t":2008.75,"v":0.0260},{"s":"EUR 200","t":2008.79,"v":0.0332},{"s":"EUR 200","t":2008.85,"v":0.0289},{"s":"EUR 200","t":2008.92,"v":0.0245},{"s":"EUR 200","t":2008.99,"v":0.0303},
{"s":"EUR 200","t":2009.05,"v":0.0231},{"s":"EUR 200","t":2009.18,"v":0.0217},{"s":"EUR 200","t":2009.53,"v":0.0211},{"s":"EUR 200","t":2009.88,"v":0.0202},{"s":"EUR 200","t":2010.23,"v":0.0193},{"s":"EUR 200","t":2010.58,"v":0.0188},{"s":"EUR 200","t":2010.93,"v":0.0188},{"s":"EUR 200","t":2011.28,"v":0.0173},{"s":"EUR 200","t":2011.63,"v":0.0188},{"s":"EUR 200","t":2011.97,"v":0.0173},{"s":"EUR 200","t":2012.24,"v":0.0159},{"s":"EUR 200","t":2012.50,"v":0.0173},{"s":"EUR 200","t":2012.76,"v":0.0165},{"s":"EUR 200","t":2013.02,"v":0.0182},{"s":"EUR 200","t":2013.28,"v":0.0165},{"s":"EUR 200","t":2013.55,"v":0.0159},{"s":"EUR 200","t":2013.81,"v":0.0173},
{"s":"EUR 200","t":2014.07,"v":0.0153},{"s":"EUR 200","t":2014.33,"v":0.0159},{"s":"EUR 200","t":2014.59,"v":0.0144},{"s":"EUR 200","t":2014.85,"v":0.0165},{"s":"EUR 200","t":2015.01,"v":0.0193},{"s":"EUR 200","t":2015.12,"v":0.0159},{"s":"EUR 200","t":2015.38,"v":0.0144},{"s":"EUR 200","t":2015.64,"v":0.0136},{"s":"EUR 200","t":2015.90,"v":0.0144},{"s":"EUR 200","t":2016.16,"v":0.0165},{"s":"EUR 200","t":2016.34,"v":0.0193},{"s":"EUR 200","t":2016.51,"v":0.0211},{"s":"EUR 200","t":2016.69,"v":0.0188},{"s":"EUR 200","t":2016.95,"v":0.0173},{"s":"EUR 200","t":2017.21,"v":0.0165},{"s":"EUR 200","t":2017.47,"v":0.0159},{"s":"EUR 200","t":2017.73,"v":0.0165},{"s":"EUR 200","t":2018.00,"v":0.0153},{"s":"EUR 200","t":2018.26,"v":0.0159},{"s":"EUR 200","t":2018.52,"v":0.0153},{"s":"EUR 200","t":2018.78,"v":0.0159},{"s":"EUR 200","t":2018.96,"v":0.0173},
{"s":"EUR 500","t":2006.00,"v":0.1139},{"s":"EUR 500","t":2006.08,"v":0.1096},{"s":"EUR 500","t":2006.17,"v":0.1197},{"s":"EUR 500","t":2006.26,"v":0.1183},{"s":"EUR 500","t":2006.35,"v":0.1139},{"s":"EUR 500","t":2006.43,"v":0.1197},{"s":"EUR 500","t":2006.52,"v":0.1125},{"s":"EUR 500","t":2006.65,"v":0.0966},{"s":"EUR 500","t":2006.74,"v":0.1082},{"s":"EUR 500","t":2006.87,"v":0.1125},{"s":"EUR 500","t":2006.98,"v":0.1139},
{"s":"EUR 500","t":2007.09,"v":0.1082},{"s":"EUR 500","t":2007.22,"v":0.1125},{"s":"EUR 500","t":2007.35,"v":0.1082},{"s":"EUR 500","t":2007.48,"v":0.1096},{"s":"EUR 500","t":2007.57,"v":0.1082},{"s":"EUR 500","t":2007.65,"v":0.0923},{"s":"EUR 500","t":2007.74,"v":0.1082},{"s":"EUR 500","t":2007.87,"v":0.1125},{"s":"EUR 500","t":2007.98,"v":0.1197},
{"s":"EUR 500","t":2008.09,"v":0.1168},{"s":"EUR 500","t":2008.22,"v":0.1125},{"s":"EUR 500","t":2008.35,"v":0.1110},{"s":"EUR 500","t":2008.48,"v":0.1082},{"s":"EUR 500","t":2008.59,"v":0.1082},{"s":"EUR 500","t":2008.66,"v":0.0952},{"s":"EUR 500","t":2008.70,"v":0.1053},{"s":"EUR 500","t":2008.75,"v":0.1831},{"s":"EUR 500","t":2008.79,"v":0.2610},{"s":"EUR 500","t":2008.83,"v":0.1831},{"s":"EUR 500","t":2008.88,"v":0.1255},{"s":"EUR 500","t":2008.94,"v":0.1428},
{"s":"EUR 500","t":2009.01,"v":0.1341},{"s":"EUR 500","t":2009.09,"v":0.1312},{"s":"EUR 500","t":2009.18,"v":0.1255},{"s":"EUR 500","t":2009.27,"v":0.1139},{"s":"EUR 500","t":2009.36,"v":0.1038},{"s":"EUR 500","t":2009.44,"v":0.1053},{"s":"EUR 500","t":2009.53,"v":0.1024},{"s":"EUR 500","t":2009.64,"v":0.1038},{"s":"EUR 500","t":2009.75,"v":0.0995},{"s":"EUR 500","t":2009.84,"v":0.1053},{"s":"EUR 500","t":2009.92,"v":0.0995},{"s":"EUR 500","t":2009.98,"v":0.1110},
{"s":"EUR 500","t":2010.05,"v":0.1038},{"s":"EUR 500","t":2010.14,"v":0.0995},{"s":"EUR 500","t":2010.23,"v":0.0981},{"s":"EUR 500","t":2010.36,"v":0.0952},{"s":"EUR 500","t":2010.49,"v":0.0880},{"s":"EUR 500","t":2010.58,"v":0.0894},{"s":"EUR 500","t":2010.67,"v":0.0937},{"s":"EUR 500","t":2010.75,"v":0.0981},{"s":"EUR 500","t":2010.84,"v":0.0966},{"s":"EUR 500","t":2010.93,"v":0.0995},
{"s":"EUR 500","t":2011.01,"v":0.0952},{"s":"EUR 500","t":2011.10,"v":0.0995},{"s":"EUR 500","t":2011.19,"v":0.0966},{"s":"EUR 500","t":2011.32,"v":0.0909},{"s":"EUR 500","t":2011.45,"v":0.0966},{"s":"EUR 500","t":2011.58,"v":0.1024},{"s":"EUR 500","t":2011.71,"v":0.1053},{"s":"EUR 500","t":2011.84,"v":0.1139},{"s":"EUR 500","t":2011.93,"v":0.1168},{"s":"EUR 500","t":2011.97,"v":0.0995},{"s":"EUR 500","t":2012.06,"v":0.0880},{"s":"EUR 500","t":2012.15,"v":0.0894},
{"s":"EUR 500","t":2012.24,"v":0.0865},{"s":"EUR 500","t":2012.32,"v":0.0966},{"s":"EUR 500","t":2012.41,"v":0.0923},{"s":"EUR 500","t":2012.50,"v":0.0981},{"s":"EUR 500","t":2012.59,"v":0.0966},{"s":"EUR 500","t":2012.67,"v":0.0952},{"s":"EUR 500","t":2012.76,"v":0.0981},{"s":"EUR 500","t":2012.89,"v":0.0894},{"s":"EUR 500","t":2012.98,"v":0.0808},
{"s":"EUR 500","t":2013.07,"v":0.0966},{"s":"EUR 500","t":2013.15,"v":0.0937},{"s":"EUR 500","t":2013.24,"v":0.0952},{"s":"EUR 500","t":2013.33,"v":0.0880},{"s":"EUR 500","t":2013.46,"v":0.0822},{"s":"EUR 500","t":2013.59,"v":0.0808},{"s":"EUR 500","t":2013.72,"v":0.0822},{"s":"EUR 500","t":2013.81,"v":0.0851},{"s":"EUR 500","t":2013.94,"v":0.0880},
{"s":"EUR 500","t":2014.02,"v":0.0909},{"s":"EUR 500","t":2014.11,"v":0.0865},{"s":"EUR 500","t":2014.20,"v":0.0923},{"s":"EUR 500","t":2014.26,"v":0.1038},{"s":"EUR 500","t":2014.33,"v":0.0764},{"s":"EUR 500","t":2014.42,"v":0.0851},{"s":"EUR 500","t":2014.50,"v":0.0822},{"s":"EUR 500","t":2014.64,"v":0.0837},{"s":"EUR 500","t":2014.77,"v":0.0837},{"s":"EUR 500","t":2014.90,"v":0.0851},
{"s":"EUR 500","t":2015.01,"v":0.0981},{"s":"EUR 500","t":2015.12,"v":0.0909},{"s":"EUR 500","t":2015.25,"v":0.0779},{"s":"EUR 500","t":2015.38,"v":0.0764},{"s":"EUR 500","t":2015.51,"v":0.0736},{"s":"EUR 500","t":2015.64,"v":0.0736},{"s":"EUR 500","t":2015.81,"v":0.0707},{"s":"EUR 500","t":2015.94,"v":0.0793},
{"s":"EUR 500","t":2016.03,"v":0.0678},{"s":"EUR 500","t":2016.12,"v":0.0736},{"s":"EUR 500","t":2016.21,"v":0.0577},{"s":"EUR 500","t":2016.29,"v":0.0606},{"s":"EUR 500","t":2016.38,"v":0.0606},{"s":"EUR 500","t":2016.51,"v":0.0577},{"s":"EUR 500","t":2016.64,"v":0.0606},{"s":"EUR 500","t":2016.77,"v":0.0764},{"s":"EUR 500","t":2016.86,"v":0.0678},{"s":"EUR 500","t":2016.95,"v":0.0663},
{"s":"EUR 500","t":2017.08,"v":0.0678},{"s":"EUR 500","t":2017.17,"v":0.0678},{"s":"EUR 500","t":2017.30,"v":0.0707},{"s":"EUR 500","t":2017.43,"v":0.0779},{"s":"EUR 500","t":2017.52,"v":0.0692},{"s":"EUR 500","t":2017.65,"v":0.0649},{"s":"EUR 500","t":2017.73,"v":0.0563},{"s":"EUR 500","t":2017.86,"v":0.0678},
{"s":"EUR 500","t":2018.00,"v":0.0635},{"s":"EUR 500","t":2018.08,"v":0.0649},{"s":"EUR 500","t":2018.17,"v":0.0764},{"s":"EUR 500","t":2018.24,"v":0.0966},{"s":"EUR 500","t":2018.30,"v":0.0736},{"s":"EUR 500","t":2018.43,"v":0.0635},{"s":"EUR 500","t":2018.56,"v":0.0649},{"s":"EUR 500","t":2018.69,"v":0.0764},{"s":"EUR 500","t":2018.78,"v":0.0793},{"s":"EUR 500","t":2018.87,"v":0.0736},{"s":"EUR 500","t":2018.94,"v":0.0649}
],
"euR": [
{"s":"EUR 50","t":2006.00,"v":0.4788},{"s":"EUR 50","t":2006.08,"v":0.4716},{"s":"EUR 50","t":2006.22,"v":0.4673},{"s":"EUR 50","t":2006.39,"v":0.4586},{"s":"EUR 50","t":2006.48,"v":0.4658},{"s":"EUR 50","t":2006.56,"v":0.4716},{"s":"EUR 50","t":2006.65,"v":0.4774},{"s":"EUR 50","t":2006.74,"v":0.4730},{"s":"EUR 50","t":2006.87,"v":0.4702},{"s":"EUR 50","t":2006.98,"v":0.4846},
{"s":"EUR 50","t":2007.09,"v":0.4615},{"s":"EUR 50","t":2007.18,"v":0.4745},{"s":"EUR 50","t":2007.31,"v":0.4774},{"s":"EUR 50","t":2007.44,"v":0.4745},{"s":"EUR 50","t":2007.57,"v":0.4774},{"s":"EUR 50","t":2007.68,"v":0.4860},{"s":"EUR 50","t":2007.79,"v":0.4716},{"s":"EUR 50","t":2007.92,"v":0.4803},
{"s":"EUR 50","t":2008.00,"v":0.4860},{"s":"EUR 50","t":2008.09,"v":0.4543},{"s":"EUR 50","t":2008.22,"v":0.4673},{"s":"EUR 50","t":2008.35,"v":0.4774},{"s":"EUR 50","t":2008.48,"v":0.4831},{"s":"EUR 50","t":2008.61,"v":0.4918},{"s":"EUR 50","t":2008.70,"v":0.4831},{"s":"EUR 50","t":2008.76,"v":0.4745},{"s":"EUR 50","t":2008.79,"v":0.3822},{"s":"EUR 50","t":2008.83,"v":0.4082},{"s":"EUR 50","t":2008.88,"v":0.4831},{"s":"EUR 50","t":2008.94,"v":0.4687},{"s":"EUR 50","t":2008.99,"v":0.4831},
{"s":"EUR 50","t":2009.05,"v":0.4601},{"s":"EUR 50","t":2009.09,"v":0.4370},{"s":"EUR 50","t":2009.16,"v":0.4630},{"s":"EUR 50","t":2009.23,"v":0.4716},{"s":"EUR 50","t":2009.29,"v":0.4774},{"s":"EUR 50","t":2009.36,"v":0.4875},{"s":"EUR 50","t":2009.44,"v":0.4831},{"s":"EUR 50","t":2009.53,"v":0.4889},{"s":"EUR 50","t":2009.64,"v":0.4831},{"s":"EUR 50","t":2009.75,"v":0.4803},{"s":"EUR 50","t":2009.84,"v":0.4774},{"s":"EUR 50","t":2009.92,"v":0.4745},{"s":"EUR 50","t":2009.98,"v":0.4990},
{"s":"EUR 50","t":2010.05,"v":0.4803},{"s":"EUR 50","t":2010.16,"v":0.4875},{"s":"EUR 50","t":2010.27,"v":0.4860},{"s":"EUR 50","t":2010.40,"v":0.4831},{"s":"EUR 50","t":2010.53,"v":0.4875},{"s":"EUR 50","t":2010.67,"v":0.4860},{"s":"EUR 50","t":2010.80,"v":0.4831},{"s":"EUR 50","t":2010.93,"v":0.4918},{"s":"EUR 50","t":2010.99,"v":0.5033},
{"s":"EUR 50","t":2011.06,"v":0.4860},{"s":"EUR 50","t":2011.19,"v":0.4889},{"s":"EUR 50","t":2011.32,"v":0.4976},{"s":"EUR 50","t":2011.45,"v":0.4831},{"s":"EUR 50","t":2011.58,"v":0.4860},{"s":"EUR 50","t":2011.71,"v":0.4831},{"s":"EUR 50","t":2011.84,"v":0.4803},{"s":"EUR 50","t":2011.93,"v":0.4947},{"s":"EUR 50","t":2011.97,"v":0.5076},{"s":"EUR 50","t":2012.04,"v":0.4918},{"s":"EUR 50","t":2012.15,"v":0.4976},
{"s":"EUR 50","t":2012.24,"v":0.4918},{"s":"EUR 50","t":2012.37,"v":0.4947},{"s":"EUR 50","t":2012.45,"v":0.4889},{"s":"EUR 50","t":2012.54,"v":0.4932},{"s":"EUR 50","t":2012.63,"v":0.4889},{"s":"EUR 50","t":2012.72,"v":0.4947},{"s":"EUR 50","t":2012.85,"v":0.4918},{"s":"EUR 50","t":2012.98,"v":0.5091},
{"s":"EUR 50","t":2013.07,"v":0.4961},{"s":"EUR 50","t":2013.15,"v":0.5004},{"s":"EUR 50","t":2013.24,"v":0.5062},{"s":"EUR 50","t":2013.33,"v":0.4990},{"s":"EUR 50","t":2013.46,"v":0.5004},{"s":"EUR 50","t":2013.59,"v":0.5019},{"s":"EUR 50","t":2013.72,"v":0.5004},{"s":"EUR 50","t":2013.85,"v":0.5048},{"s":"EUR 50","t":2013.94,"v":0.4961},
{"s":"EUR 50","t":2014.02,"v":0.5120},{"s":"EUR 50","t":2014.11,"v":0.4976},{"s":"EUR 50","t":2014.20,"v":0.4918},{"s":"EUR 50","t":2014.24,"v":0.4831},{"s":"EUR 50","t":2014.33,"v":0.5091},{"s":"EUR 50","t":2014.42,"v":0.5062},{"s":"EUR 50","t":2014.52,"v":0.5019},{"s":"EUR 50","t":2014.64,"v":0.5076},{"s":"EUR 50","t":2014.77,"v":0.5062},{"s":"EUR 50","t":2014.90,"v":0.5004},
{"s":"EUR 50","t":2015.01,"v":0.4961},{"s":"EUR 50","t":2015.12,"v":0.5091},{"s":"EUR 50","t":2015.25,"v":0.5149},{"s":"EUR 50","t":2015.38,"v":0.5177},{"s":"EUR 50","t":2015.51,"v":0.5149},{"s":"EUR 50","t":2015.60,"v":0.5120},{"s":"EUR 50","t":2015.68,"v":0.5192},{"s":"EUR 50","t":2015.81,"v":0.5149},{"s":"EUR 50","t":2015.94,"v":0.5235},
{"s":"EUR 50","t":2016.03,"v":0.5235},{"s":"EUR 50","t":2016.12,"v":0.5120},{"s":"EUR 50","t":2016.21,"v":0.5177},{"s":"EUR 50","t":2016.29,"v":0.5033},{"s":"EUR 50","t":2016.38,"v":0.5091},{"s":"EUR 50","t":2016.51,"v":0.5149},{"s":"EUR 50","t":2016.64,"v":0.5120},{"s":"EUR 50","t":2016.77,"v":0.5004},{"s":"EUR 50","t":2016.86,"v":0.4976},{"s":"EUR 50","t":2016.95,"v":0.5149},
{"s":"EUR 50","t":2017.02,"v":0.5235},{"s":"EUR 50","t":2017.12,"v":0.5120},{"s":"EUR 50","t":2017.25,"v":0.5163},{"s":"EUR 50","t":2017.38,"v":0.5076},{"s":"EUR 50","t":2017.52,"v":0.5149},{"s":"EUR 50","t":2017.65,"v":0.5177},{"s":"EUR 50","t":2017.82,"v":0.5192},{"s":"EUR 50","t":2017.95,"v":0.5235},
{"s":"EUR 50","t":2018.04,"v":0.5206},{"s":"EUR 50","t":2018.17,"v":0.5120},{"s":"EUR 50","t":2018.26,"v":0.5004},{"s":"EUR 50","t":2018.34,"v":0.5120},{"s":"EUR 50","t":2018.48,"v":0.5163},{"s":"EUR 50","t":2018.65,"v":0.5120},{"s":"EUR 50","t":2018.78,"v":0.5062},{"s":"EUR 50","t":2018.87,"v":0.5076},{"s":"EUR 50","t":2018.96,"v":0.5120}
]
}
}
